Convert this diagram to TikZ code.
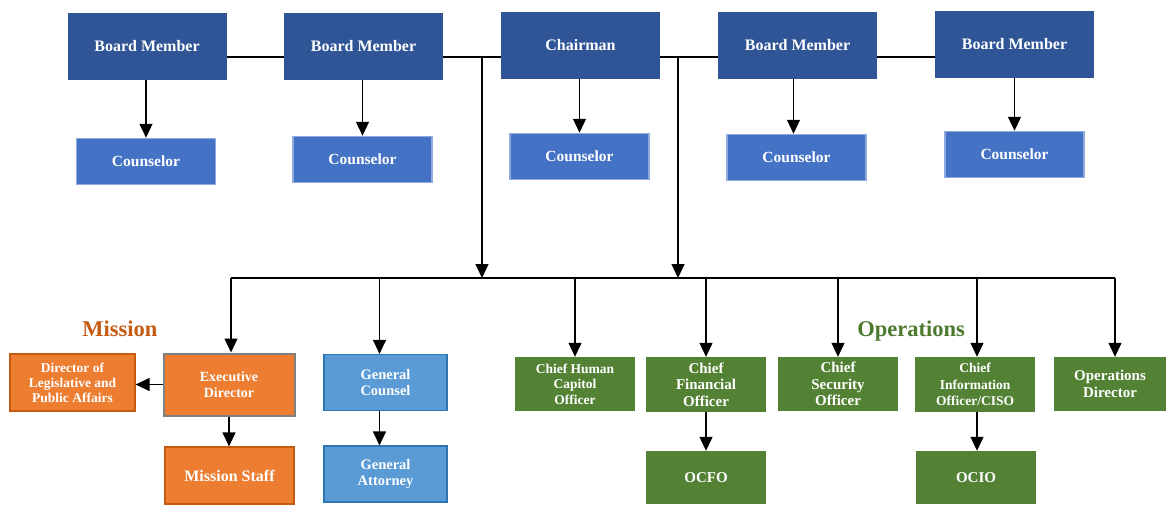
\documentclass[tikz,border=0pt]{standalone}
\usepackage{fontspec}
\setmainfont{Liberation Serif}
\usetikzlibrary{arrows.meta}
\definecolor{bmblue}{HTML}{2F5597}
\definecolor{cblue}{HTML}{4472C4}
\definecolor{cborder}{HTML}{8FAADC}
\definecolor{orng}{HTML}{ED7D31}
\definecolor{orngd}{HTML}{C55A11}
\definecolor{gcblue}{HTML}{5B9BD5}
\definecolor{gcborder}{HTML}{2E75B6}
\definecolor{grn}{HTML}{548235}
\definecolor{grnlabel}{HTML}{4E7A30}
\tikzset{
  box/.style={rectangle, inner sep=1pt, align=center, text=white, font=\bfseries},
  bm/.style={box, fill=bmblue, minimum width=159, minimum height=67, font=\bfseries\fontsize{16}{18}\selectfont},
  cns/.style={box, fill=cblue, draw=cborder, line width=1.5pt, minimum width=139, minimum height=46, font=\bfseries\fontsize{15.5}{17}\selectfont},
  ob/.style={box, fill=orng, draw=orngd, line width=1.2pt},
  gb/.style={box, fill=gcblue, draw=gcborder, line width=1.2pt, minimum width=123, minimum height=56, font=\bfseries\fontsize{14.5}{16}\selectfont},
  grb/.style={box, fill=grn, minimum width=120, minimum height=54},
  arr/.style={line width=1.2pt, -{Triangle[length=14pt,width=13pt]}},
  ln/.style={line width=1.2pt},
}
\begin{document}
\begin{tikzpicture}[x=1pt,y=-1pt]
\useasboundingbox (0,0) rectangle (1166,504);
% top row
\node[bm] (bm1) at (147,46.5) {Board Member};
\node[bm] (bm2) at (363.5,46.5) {Board Member};
\node[bm] (chair) at (580.5,45.5) {Chairman};
\node[bm] (bm3) at (797.5,45.5) {Board Member};
\node[bm] (bm4) at (1014.5,44) {Board Member};
% counselors
\node[cns] (c1) at (146,161.5) {Counselor};
\node[cns] (c2) at (362.5,159.5) {Counselor};
\node[cns] (c3) at (579.5,156.5) {Counselor};
\node[cns] (c4) at (796.5,157.5) {Counselor};
\node[cns] (c5) at (1014.5,154.5) {Counselor};
% bottom row
\node[ob, minimum width=125, minimum height=57, font=\bfseries\fontsize{13.5}{15}\selectfont] (dlpa) at (72.5,382.5) {Director of\\Legislative and\\Public Affairs};
\node[ob, draw=gray, line width=2pt, minimum width=131, minimum height=62, font=\bfseries\fontsize{14}{16}\selectfont] (ed) at (229,384.5) {Executive\\Director};
\node[ob, minimum width=129, minimum height=57, font=\bfseries\fontsize{16}{18}\selectfont] (ms) at (229.5,475.5) {Mission Staff};
\node[gb] (gc) at (385.5,382.5) {General\\Counsel};
\node[gb] (ga) at (385.5,474) {General\\Attorney};
\node[grb, font=\bfseries\fontsize{13.5}{15.5}\selectfont] (chco) at (575,384) {Chief Human\\Capitol\\Officer};
\node[grb, minimum height=55, font=\bfseries\fontsize{15}{16.5}\selectfont] (cfo) at (706,384.5) {Chief\\Financial\\Officer};
\node[grb, font=\bfseries\fontsize{15}{16.5}\selectfont] (cso) at (838,384) {Chief\\Security\\Officer};
\node[grb, minimum height=55, font=\bfseries\fontsize{13.5}{16.5}\selectfont] (cio) at (975,384.5) {Chief\\Information\\Officer/CISO};
\node[grb, minimum width=112, font=\bfseries\fontsize{15}{17}\selectfont] (opd) at (1110,384) {Operations\\Director};
\node[grb, minimum height=53, font=\bfseries\fontsize{15}{17}\selectfont] (ocfo) at (706,477.5) {OCFO};
\node[grb, minimum height=53, font=\bfseries\fontsize{15}{17}\selectfont] (ocio) at (976,477.5) {OCIO};
% section labels
\node[text=orngd, font=\bfseries\fontsize{22.5}{24}\selectfont] (mission) at (120,329) {Mission};
\node[text=grnlabel, font=\bfseries\fontsize{22.5}{24}\selectfont] (ops) at (911,331) {Operations};
% top horizontal links
\coordinate (top) at (0,57);
\draw[ln] (bm1.east |- top) -- (bm2.west |- top);
\draw[ln] (bm2.east |- top) -- (chair.west |- top);
\draw[ln] (chair.east |- top) -- (bm3.west |- top);
\draw[ln] (bm3.east |- top) -- (bm4.west |- top);
% board -> counselor
\draw[arr] (c1.north |- bm1.south) -- (c1.north);
\draw[arr] (c2.north |- bm2.south) -- (c2.north);
\draw[arr] (c3.north |- chair.south) -- (c3.north);
\draw[arr] ([xshift=-3pt]c4.north |- bm3.south) -- ([xshift=-3pt]c4.north);
\draw[arr] (c5.north |- bm4.south) -- (c5.north);
% drops to bus
\coordinate (jl) at (482,57);
\coordinate (jr) at (678,57);
\coordinate (bus) at (0,278);
\draw[arr] (jl) -- (jl |- bus);
\draw[arr] (jr) -- (jr |- bus);
\coordinate (busl) at (231,278);
\coordinate (busr) at (1115,278);
\draw[ln] (busl) -- (busr);
% drops from bus
\draw[arr] (busl) -- (busl |- ed.north);
\draw[arr] ([xshift=-6pt]gc.north |- bus) -- ([xshift=-6pt]gc.north);
\draw[arr] (chco.north |- bus) -- (chco.north);
\draw[arr] (cfo.north |- bus) -- (cfo.north);
\draw[arr] (cso.north |- bus) -- (cso.north);
\draw[arr] ([xshift=2pt]cio.north |- bus) -- ([xshift=2pt]cio.north);
\draw[arr] (busr) -- (busr |- opd.north);
% sub links
\draw[arr] (ed.west) -- (dlpa.east |- ed.west);
\draw[arr] (ed.south) -- (ed.south |- ms.north);
\draw[arr] ([xshift=-6pt]gc.south) -- ([xshift=-6pt]ga.north);
\draw[arr] (cfo.south) -- (ocfo.north);
\draw[arr] ([xshift=2pt]cio.south) -- ([xshift=2pt]cio.south |- ocio.north);
\end{tikzpicture}
\end{document}
